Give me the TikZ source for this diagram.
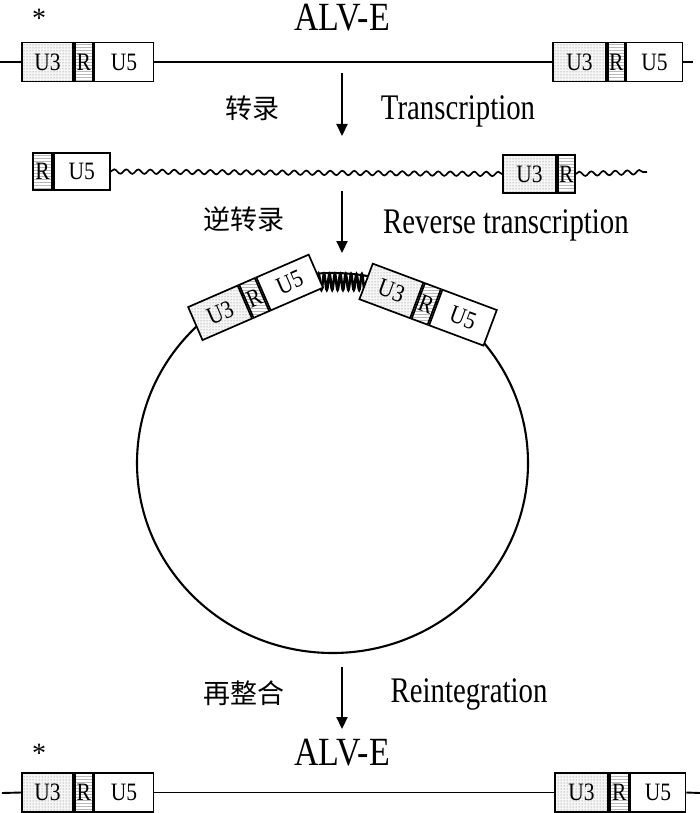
\documentclass[tikz,border=0pt]{standalone}
\usepackage{fontspec}
\setmainfont{Liberation Serif}
\newfontfamily\cjk{Noto Sans CJK SC}
\usetikzlibrary{arrows.meta,patterns,decorations.pathmorphing,shapes.geometric,calc}
\newcommand{\narrowtxt}[1]{\scalebox{0.8}[1]{#1}}
\newcommand{\bx}[1]{\scalebox{0.86}[1]{#1}}
\begin{document}
\begin{tikzpicture}[x=1pt,y=-1pt,
  seg/.style={draw, line width=1.7pt, inner sep=0pt, minimum height=39pt,
    font=\fontsize{25}{25}\selectfont},
  u3/.style={seg, preaction={fill=gray!7}, pattern=dots, pattern color=black!55, minimum width=52pt},
  rr/.style={seg, preaction={fill=white}, pattern=horizontal lines, pattern color=gray!55, minimum width=17pt},
  u5/.style={seg, fill=white, minimum width=57pt},
  dna/.style={line width=1.9pt},
  wave/.style={line width=1.7pt, decorate, decoration={snake, amplitude=2.2pt, segment length=12pt}},
  spring/.style={line width=2.5pt, decorate, decoration={snake, amplitude=8pt, segment length=5.4pt}},
  step arrow/.style={line width=2.2pt, -{Triangle[width=11pt,length=12pt]}},
  lat/.style={font=\fontsize{36}{36}\selectfont, inner sep=0pt},
  zh/.style={font=\cjk\fontsize{27}{27}\selectfont, inner sep=0pt},
  title/.style={font=\fontsize{40}{40}\selectfont, inner sep=0pt},
  star/.style={font=\fontsize{28}{28}\selectfont, inner sep=0pt}
]
\useasboundingbox (0,0) rectangle (700,813);

% ---------- top row ----------
\node[title] (title1) at (342,18) {\scalebox{0.85}[1]{ALV-E}};
\node[star] (star1) at (39,18) {*};
\node[u3, minimum width=51pt] (a1) at (47.5,62) {\bx{U3}};
\node[rr, minimum width=18pt, anchor=west] (a2) at (a1.east) {\bx{R}};
\node[u5, minimum width=59pt, anchor=west] (a3) at (a2.east) {\bx{U5}};
\node[u3, minimum width=53pt] (a4) at (579.5,62) {\bx{U3}};
\node[rr, anchor=west] (a5) at (a4.east) {\bx{R}};
\node[u5, minimum width=56pt, anchor=west] (a6) at (a5.east) {\bx{U5}};
\coordinate (tl) at (0,62);
\coordinate (tr) at (693,62);
\draw[dna] (tl) -- (a1.west);
\draw[dna] (a3.east) -- (a4.west);
\draw[dna] (a6.east) -- (tr);

% ---------- transcription ----------
\coordinate (s1a) at (342,73);
\coordinate (s1b) at (342,136);
\draw[step arrow] (s1a) -- (s1b);
\node[zh] (zh1) at (252,108) {转录};
\node[lat] (en1) at (458,111) {\narrowtxt{Transcription}};

% ---------- RNA row ----------
\node[rr, minimum width=19pt, minimum height=37pt] (b1) at (42.5,171.5) {\bx{R}};
\node[u5, minimum width=56pt, minimum height=37pt, anchor=west] (b2) at (b1.east) {\bx{U5}};
\node[u3, minimum width=53pt, minimum height=38pt] (c1) at (529.5,174) {\bx{U3}};
\node[rr, minimum width=17pt, minimum height=38pt, anchor=west] (c2) at (c1.east) {\bx{R}};
\coordinate (rnaend) at (647,172);
\draw[wave] (b2.east) -- (c1.west);
\draw[wave] (c2.east) -- (rnaend);

% ---------- reverse transcription ----------
\coordinate (s2a) at (342,191);
\coordinate (s2b) at (342,253);
\draw[step arrow] (s2a) -- (s2b);
\node[zh] (zh2) at (244,219) {逆转录};
\node[lat] (en2) at (506,225) {\narrowtxt{Reverse transcription}};

% ---------- circular form ----------
\node[draw, ellipse, line width=2.1pt, minimum width=391pt, minimum height=380pt, inner sep=0pt] (ring) at (332.5,463) {};

\coordinate (springL) at (317,282);
\coordinate (springR) at (367,282);
\draw[spring] (springL) -- (springR);

\node[u3, rotate=23.5, minimum width=54pt, minimum height=36pt] (l1) at (220.1,312.8) {\bx{U3}};
\node[rr, rotate=23.5, minimum width=17pt, minimum height=36pt, anchor=west] (l2) at (l1.east) {\bx{R}};
\node[u5, rotate=23.5, minimum width=57pt, minimum height=36pt, anchor=west] (l3) at (l2.east) {\bx{U5}};

\node[u3, rotate=-20.5, minimum width=54pt, minimum height=38pt] (m1) at (391.4,290.9) {\bx{U3}};
\node[rr, rotate=-20.5, minimum width=17pt, minimum height=38pt, anchor=west] (m2) at (m1.east) {\bx{R}};
\node[u5, rotate=-20.5, minimum width=58pt, minimum height=38pt, anchor=west] (m3) at (m2.east) {\bx{U5}};

% ---------- reintegration ----------
\coordinate (s3a) at (342,667);
\coordinate (s3b) at (342,729);
\draw[step arrow] (s3a) -- (s3b);
\node[zh] (zh3) at (244,693) {再整合};
\node[lat] (en3) at (469,694) {\narrowtxt{Reintegration}};

% ---------- bottom row ----------
\node[title] (title2) at (342,753) {\scalebox{0.85}[1]{ALV-E}};
\node[star] (star2) at (39,753) {*};
\node[u3, minimum width=51pt] (d1) at (47.5,792.5) {\bx{U3}};
\node[rr, minimum width=18pt, anchor=west] (d2) at (d1.east) {\bx{R}};
\node[u5, minimum width=59pt, anchor=west] (d3) at (d2.east) {\bx{U5}};
\node[u3, minimum width=53pt] (d4) at (581.5,792.5) {\bx{U3}};
\node[rr, minimum width=19pt, anchor=west] (d5) at (d4.east) {\bx{R}};
\node[u5, minimum width=55pt, anchor=west] (d6) at (d5.east) {\bx{U5}};
\coordinate (bl) at (2,793);
\coordinate (br) at (700,793);
\draw[dna] (bl) -- (d1.west);
\draw[dna] (d3.east) -- (d4.west);
\draw[dna] (d6.east) -- (br);
\end{tikzpicture}
\end{document}
